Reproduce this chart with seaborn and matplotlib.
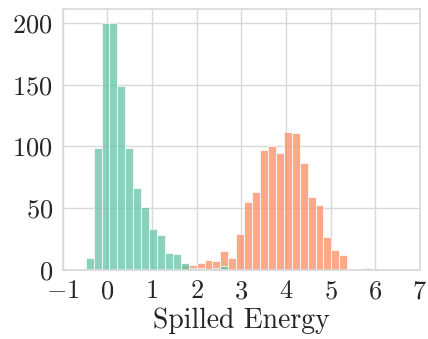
import numpy as np
import pandas as pd
import matplotlib
matplotlib.use("Agg")
import matplotlib.pyplot as plt
import seaborn as sns

# ---- data ----
bin_start = -0.485
bin_width = 0.1775
# green: bins 0..17, orange: bins 12..35
green_first_bin = 0
green_counts = [10, 99, 200, 200, 149, 99, 66, 51, 33, 28, 14, 13,
                6, 2, 2, 1, 2, 3]
orange_first_bin = 12
orange_counts = [4, 4, 6, 8, 7, 15, 10, 29, 55, 63, 97, 100,
                 95, 112, 111, 87, 59, 53, 27, 16, 12, 1, 1, 2]
x_ticks = [-1, 0, 1, 2, 3, 4, 5, 6, 7]
y_ticks = [0, 50, 100, 150, 200]
x_label = "Spilled Energy"


def hist_frame(first_bin, counts):
    idx = first_bin + np.arange(len(counts) + 1)
    edges = bin_start + bin_width * idx
    centers = (edges[:-1] + edges[1:]) / 2
    return pd.DataFrame({"x": centers, "count": counts}), list(edges)


sns.set_theme(style="whitegrid")
plt.rcParams["font.family"] = "serif"
plt.rcParams["font.serif"] = ["cmr10", "DejaVu Serif"]
plt.rcParams["mathtext.fontset"] = "cm"
plt.rcParams["axes.formatter.use_mathtext"] = True

fig = plt.figure(figsize=(4.28, 3.39), dpi=100)
ax = fig.add_axes([0.1465, 0.2035, 0.981 - 0.1465, 0.9726 - 0.2035])

pal = sns.color_palette("Set2")[:2]
df_o, edges_o = hist_frame(orange_first_bin, orange_counts)
df_g, edges_g = hist_frame(green_first_bin, green_counts)
sns.histplot(data=df_o, x="x", weights="count", bins=edges_o,
             color=pal[1], alpha=0.75, linewidth=0.5, ax=ax)
sns.histplot(data=df_g, x="x", weights="count", bins=edges_g,
             color=pal[0], alpha=0.75, linewidth=0.5, ax=ax)

ax.set_xlim(-1, 7)
ax.set_ylim(0, 211)
ax.set_xticks(x_ticks)
ax.set_yticks(y_ticks)
ax.set_xlabel(x_label, fontsize=20, labelpad=3)
ax.set_ylabel("")
ax.tick_params(axis="both", labelsize=19, length=0)
ax.tick_params(axis="y", pad=7)
ax.tick_params(axis="x", pad=7)
for s in ax.spines.values():
    s.set_color("0.85")
ax.grid(color="0.85")

fig.savefig("out.png", dpi=100)
